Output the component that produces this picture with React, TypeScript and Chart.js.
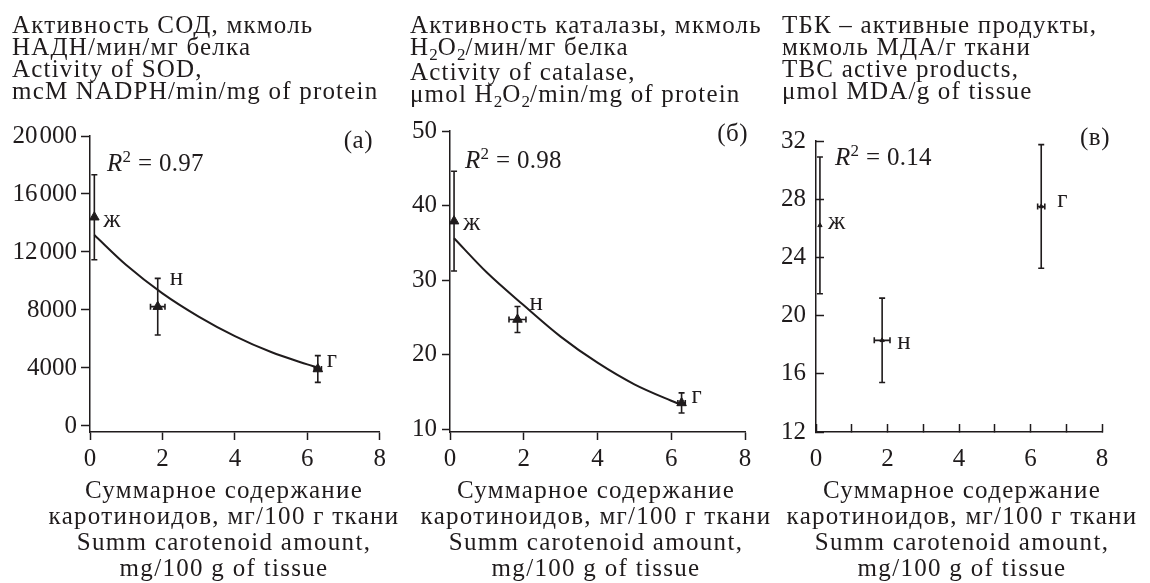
import React, { useEffect, useRef } from 'react';
import { Chart, registerables } from 'chart.js';

Chart.register(...registerables);

const INK = '#1f1b1c';
const FONT = '"Liberation Serif", "Times New Roman", serif';

// Group labels for the three sample points
const groupLabels = ['ж', 'н', 'г'];

// Shared x axis ticks
const xTicksMain = [0, 2, 4, 6, 8];
const xTicksAll = [0, 1, 2, 3, 4, 5, 6, 7, 8];

// (а) SOD activity
const sodX = [0.12, 1.87, 6.29];
const sodY = [14400, 8230, 3930];
const sodYErr = [2930, 1950, 920];
const sodXErr = [0, 0.2, 0.1];
const sodFitX = [0.12, 1, 2, 3, 4, 5, 6, 6.25];
const sodFitY = [13170, 11100, 9150, 7550, 6200, 5100, 4250, 4050];
const sodTicks = [0, 4000, 8000, 12000, 16000, 20000];

// (б) Catalase activity
const catX = [0.11, 1.83, 6.28];
const catY = [37.9, 24.7, 13.5];
const catYErr = [6.7, 1.75, 1.35];
const catXErr = [0, 0.23, 0.1];
const catFitX = [0.11, 1, 2, 3, 4, 5, 6, 6.25];
const catFitY = [35.6, 31.0, 26.6, 22.4, 18.9, 16.0, 13.8, 13.3];
const catTicks = [10, 20, 30, 40, 50];

// (в) TBC active products
const tbcX = [0.11, 1.85, 6.3];
const tbcY = [26.2, 18.3, 27.5];
const tbcYErr = [4.7, 2.9, 4.25];
const tbcXErr = [0, 0.22, 0.1];
const tbcTicks = [12, 16, 20, 24, 28, 32];

const fmtThousands = (v: number) => {
  const s = String(v);
  return s.length === 5 ? s.slice(0, 2) + '\u200A' + s.slice(2) : s;
};

interface PanelCfg {
  left: number;
  width: number;
  height: number;
  yAxisWidth: number;
  padTop: number;
  padRight: number;
  xs: number[];
  ys: number[];
  yErr: number[];
  xErr: number[];
  fitX?: number[];
  fitY?: number[];
  yMin: number;
  yMax: number;
  yTicks: number[];
  xTicks: number[];
  inward: boolean;
  pointRadius: number;
  yTickLen: number;
  yPad: number;
  labelOffsets: [number, number][];
  yFmt: (v: number) => string;
}

const panels: PanelCfg[] = [
  {
    left: 0, width: 390, height: 480, yAxisWidth: 90, padTop: 136, padRight: 10,
    xs: sodX, ys: sodY, yErr: sodYErr, xErr: sodXErr, fitX: sodFitX, fitY: sodFitY,
    yMin: -414, yMax: 20000, yTicks: sodTicks, xTicks: xTicksMain, inward: false,
    pointRadius: 5.5, yTickLen: 9, yPad: 4,
    labelOffsets: [[9, 3], [12, -28], [9, -9]],
    yFmt: fmtThousands,
  },
  {
    left: 390, width: 370, height: 480, yAxisWidth: 60, padTop: 131, padRight: 15,
    xs: catX, ys: catY, yErr: catYErr, xErr: catXErr, fitX: catFitX, fitY: catFitY,
    yMin: 9.6, yMax: 50, yTicks: catTicks, xTicks: xTicksMain, inward: false,
    pointRadius: 5.5, yTickLen: 8, yPad: 5,
    labelOffsets: [[9, 2], [12, -16], [10, -7]],
    yFmt: (v) => String(v),
  },
  {
    left: 760, width: 390, height: 480, yAxisWidth: 56, padTop: 141, padRight: 48,
    xs: tbcX, ys: tbcY, yErr: tbcYErr, xErr: tbcXErr,
    yMin: 12, yMax: 32, yTicks: tbcTicks, xTicks: xTicksAll, inward: true,
    pointRadius: 2.5, yTickLen: -8, yPad: 18,
    labelOffsets: [[8, -3], [15, 2], [16, -6]],
    yFmt: (v) => String(v),
  },
];

function Panel({ cfg }: { cfg: PanelCfg }) {
  const ref = useRef<HTMLCanvasElement | null>(null);
  useEffect(() => {
    if (!ref.current) return;
    const overlay = {
      id: 'errorBarsAndLabels',
      beforeDatasetsDraw(chart: any) {
        const { ctx } = chart;
        const xs = chart.scales.x;
        const ys = chart.scales.y;
        ctx.save();
        ctx.strokeStyle = INK;
        ctx.lineWidth = 1.6;
        const cap = 3;
        cfg.xs.forEach((xv, i) => {
          const px = xs.getPixelForValue(xv);
          const py = ys.getPixelForValue(cfg.ys[i]);
          const ye = cfg.yErr[i];
          if (ye) {
            const t = ys.getPixelForValue(cfg.ys[i] + ye);
            const b = ys.getPixelForValue(cfg.ys[i] - ye);
            ctx.beginPath();
            ctx.moveTo(px, t); ctx.lineTo(px, b);
            ctx.moveTo(px - cap, t); ctx.lineTo(px + cap, t);
            ctx.moveTo(px - cap, b); ctx.lineTo(px + cap, b);
            ctx.stroke();
          }
          const xe = cfg.xErr[i];
          if (xe) {
            const l = xs.getPixelForValue(xv - xe);
            const r = xs.getPixelForValue(xv + xe);
            ctx.beginPath();
            ctx.moveTo(l, py); ctx.lineTo(r, py);
            ctx.moveTo(l, py - cap); ctx.lineTo(l, py + cap);
            ctx.moveTo(r, py - cap); ctx.lineTo(r, py + cap);
            ctx.stroke();
          }
        });
        ctx.restore();
      },
      afterDatasetsDraw(chart: any) {
        const { ctx } = chart;
        const xs = chart.scales.x;
        const ys = chart.scales.y;
        ctx.save();
        ctx.fillStyle = INK;
        ctx.font = `25px ${FONT}`;
        ctx.textAlign = 'left';
        ctx.textBaseline = 'middle';
        cfg.xs.forEach((xv, i) => {
          const px = xs.getPixelForValue(xv);
          const py = ys.getPixelForValue(cfg.ys[i]);
          const [dx, dy] = cfg.labelOffsets[i];
          ctx.fillText(groupLabels[i], px + dx, py + dy);
        });
        ctx.restore();
      },
    };

    const datasets: any[] = [
      {
        data: cfg.xs.map((x, i) => ({ x, y: cfg.ys[i] })),
        pointStyle: 'triangle',
        pointRadius: cfg.pointRadius,
        backgroundColor: INK,
        borderColor: INK,
        borderWidth: 1,
        showLine: false,
        clip: false,
      },
    ];
    if (cfg.fitX && cfg.fitY) {
      const fy = cfg.fitY;
      datasets.push({
        data: cfg.fitX.map((x, i) => ({ x, y: fy[i] })),
        showLine: true,
        pointRadius: 0,
        borderColor: INK,
        borderWidth: 2,
        cubicInterpolationMode: 'monotone',
        fill: false,
        clip: false,
      });
    }

    const chart = new Chart(ref.current, {
      type: 'scatter',
      data: { datasets },
      options: {
        animation: false,
        responsive: false,
        maintainAspectRatio: false,
        events: [],
        layout: { padding: { top: cfg.padTop, right: cfg.padRight, left: 0, bottom: 0 } },
        plugins: { legend: { display: false }, tooltip: { enabled: false }, title: { display: false } },
        scales: {
          x: {
            type: 'linear',
            min: 0,
            max: 8,
            afterBuildTicks: (s: any) => { s.ticks = cfg.xTicks.map((v) => ({ value: v })); },
            afterFit: (s: any) => { s.height = cfg.height - 432; },
            grid: {
              drawOnChartArea: false,
              drawTicks: true,
              tickLength: cfg.inward ? -8 : 8,
              tickWidth: 1.5,
              tickColor: INK,
            },
            border: { display: true, color: INK, width: 1.5 },
            ticks: {
              color: INK,
              font: { family: FONT, size: 25 },
              padding: cfg.inward ? 20 : 4,
              maxRotation: 0,
              autoSkip: false,
              callback: (v: any) => (Number(v) % 2 === 0 ? String(v) : ''),
            },
          },
          y: {
            type: 'linear',
            min: cfg.yMin,
            max: cfg.yMax,
            afterBuildTicks: (s: any) => { s.ticks = cfg.yTicks.map((v) => ({ value: v })); },
            afterFit: (s: any) => { s.width = cfg.yAxisWidth; },
            grid: {
              drawOnChartArea: false,
              drawTicks: true,
              tickLength: cfg.yTickLen,
              tickWidth: 1.5,
              tickColor: INK,
            },
            border: { display: true, color: INK, width: 1.5 },
            ticks: {
              color: INK,
              font: { family: FONT, size: 25 },
              padding: cfg.yPad,
              autoSkip: false,
              callback: (v: any) => cfg.yFmt(Number(v)),
            },
          },
        },
      },
      plugins: [overlay],
    } as any);
    return () => chart.destroy();
  }, [cfg]);

  return (
    <canvas
      ref={ref}
      width={cfg.width}
      height={cfg.height}
      style={{ position: 'absolute', left: cfg.left, top: 0, width: cfg.width, height: cfg.height }}
    />
  );
}

const textStyle: React.CSSProperties = {
  position: 'absolute',
  fontFamily: FONT,
  fontSize: 25,
  lineHeight: '22px',
  letterSpacing: '1.2px',
  color: INK,
  whiteSpace: 'nowrap',
};

const Sub = ({ c }: { c: string }) => (
  <sub style={{ fontSize: 17, verticalAlign: 'baseline', position: 'relative', top: 5, letterSpacing: 0 }}>{c}</sub>
);

const R2 = ({ value, left, top }: { value: string; left: number; top: number }) => (
  <div style={{ ...textStyle, left, top, lineHeight: '24px', letterSpacing: '0.3px' }}>
    <i>R</i>
    <sup style={{ fontSize: 17, verticalAlign: 'baseline', position: 'relative', top: -9 }}>2</sup>
    {' = ' + value}
  </div>
);

const xTitleLines = [
  'Суммарное содержание',
  'каротиноидов, мг/100 г ткани',
  'Summ carotenoid amount,',
  'mg/100 g of tissue',
];

const XTitle = ({ center }: { center: number }) => (
  <div
    style={{
      ...textStyle,
      left: center - 200,
      width: 400,
      top: 477,
      textAlign: 'center',
      lineHeight: '26px',
      letterSpacing: '1.3px',
    }}
  >
    {xTitleLines.map((l, i) => (
      <div key={i}>{l}</div>
    ))}
  </div>
);

const PanelLetter = ({ text, right, top }: { text: string; right: number; top: number }) => (
  <div style={{ ...textStyle, left: right - 60, width: 60, top, textAlign: 'right', letterSpacing: '0.5px' }}>{text}</div>
);

export default function App() {
  return (
    <div
      style={{
        position: 'absolute',
        left: 0,
        top: 0,
        width: 1150,
        height: 583,
        background: '#fff',
        overflow: 'hidden',
      }}
    >
      {panels.map((p, i) => (
        <Panel key={i} cfg={p} />
      ))}

      <div style={{ ...textStyle, left: 12, top: 14 }}>
        <div>Активность СОД, мкмоль</div>
        <div>НАДН/мин/мг белка</div>
        <div>Activity of SOD,</div>
        <div>mcM NADPH/min/mg of protein</div>
      </div>
      <div style={{ ...textStyle, left: 410, top: 14 }}>
        <div>Активность каталазы, мкмоль</div>
        <div>
          H<Sub c="2" />O<Sub c="2" />/мин/мг белка
        </div>
        <div>Activity of catalase,</div>
        <div>
          μmol H<Sub c="2" />O<Sub c="2" />/min/mg of protein
        </div>
      </div>
      <div style={{ ...textStyle, left: 782, top: 14 }}>
        <div>ТБК – активные продукты,</div>
        <div>мкмоль МДА/г ткани</div>
        <div>TBC active products,</div>
        <div>μmol MDA/g of tissue</div>
      </div>

      <PanelLetter text="(а)" right={373} top={129} />
      <PanelLetter text="(б)" right={748} top={122} />
      <PanelLetter text="(в)" right={1110} top={126} />

      <R2 value="0.97" left={107} top={151} />
      <R2 value="0.98" left={465} top={148} />
      <R2 value="0.14" left={835} top={145} />

      <XTitle center={224} />
      <XTitle center={596} />
      <XTitle center={962} />
    </div>
  );
}
